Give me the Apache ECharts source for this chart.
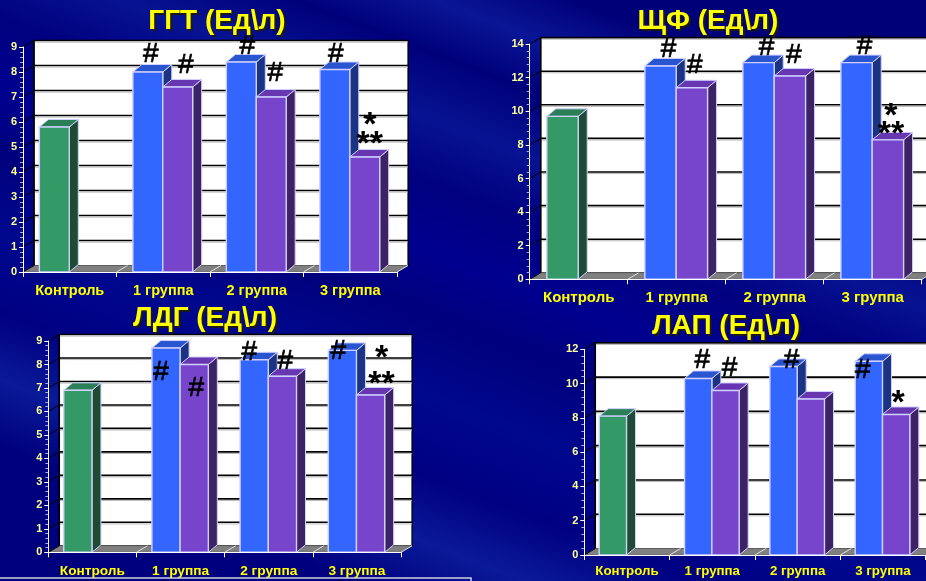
<!DOCTYPE html>
<html>
<head>
<meta charset="utf-8">
<script src="https://cdn.jsdelivr.net/npm/echarts@6/dist/echarts.min.js"></script>
<style>
html,body{margin:0;padding:0;background:#000080;}
#chart{width:926px;height:581px;}
</style>
</head>
<body>
<div id="chart"></div>
<script>
// ---------- DATA ----------
const categories = ['Контроль', '1 группа', '2 группа', '3 группа'];

const ggtTitle = 'ГГТ (Ед\\л)';
const ggtTicks = [0, 1, 2, 3, 4, 5, 6, 7, 8, 9];
const ggtSeriesA = [5.8, 8.0, 8.4, 8.1];
const ggtSeriesB = [null, 7.4, 7.0, 4.6];
const ggtMarksA = ['', '#', '#', '#'];
const ggtMarksB = ['', '#', '#', '*\n**'];

const shfTitle = 'ЩФ (Ед\\л)';
const shfTicks = [0, 2, 4, 6, 8, 10, 12, 14];
const shfSeriesA = [9.7, 12.7, 12.9, 12.9];
const shfSeriesB = [null, 11.4, 12.1, 8.3];
const shfMarksA = ['', '#', '#', '#'];
const shfMarksB = ['', '#', '#', '*\n**'];

const ldgTitle = 'ЛДГ (Ед\\л)';
const ldgTicks = [0, 1, 2, 3, 4, 5, 6, 7, 8, 9];
const ldgSeriesA = [6.9, 8.7, 8.2, 8.6];
const ldgSeriesB = [null, 8.0, 7.5, 6.7];
const ldgMarksA = ['', '#', '#', '#'];
const ldgMarksB = ['', '#', '#', '*\n**'];

const lapTitle = 'ЛАП (Ед\\л)';
const lapTicks = [0, 2, 4, 6, 8, 10, 12];
const lapSeriesA = [8.1, 10.3, 11.0, 11.3];
const lapSeriesB = [null, 9.6, 9.1, 8.2];
const lapMarksA = ['', '#', '#', '#'];
const lapMarksB = ['', '#', '', '*'];

// ---------- LAYOUT / STYLE ----------
const FONT = '"Liberation Sans", Arial, sans-serif';
const SLOT_START = 0.175, SLOT_W = 0.32;   // bar slots as fraction of category band
const BAR_DX = 9, BAR_DY = -7.5;          // bar depth
const WALL_DX = 11, WALL_DY = -6.5;       // wall depth
const PALETTE = [
  {front: '#339966', top: '#2b7f57', side: '#1d4b34'},
  {front: '#3366ff', top: '#2a55d0', side: '#1a3382'},
  {front: '#7744cc', top: '#6637b0', side: '#3d2366'}
];
const EDGE = '#d0d0ff';

const PANELS = [
  {title: ggtTitle, ticks: ggtTicks, A: ggtSeriesA, B: ggtSeriesB, mA: ggtMarksA, mB: ggtMarksB,
   titleX: 217, titleY: 21, grid: {left: 23, top: 47, width: 374, height: 225}, xFont: 14.5, xMargin: 11,
   nudgeA: [null, [3, -18], [6, -16], [1, -15]], nudgeB: [null, [8, -22], [4, -24], [5, -20, 19.5]]},
  {title: shfTitle, ticks: shfTicks, A: shfSeriesA, B: shfSeriesB, mA: shfMarksA, mB: shfMarksB,
   titleX: 708, titleY: 21, grid: {left: 529.7, top: 44.1, width: 392, height: 235.2}, xFont: 15, xMargin: 11,
   nudgeA: [null, [8, -17], [8, -15], [8, -16]], nudgeB: [null, [3, -22], [4, -21], [3, -13, 18]]},
  {title: ldgTitle, ticks: ldgTicks, A: ldgSeriesA, B: ldgSeriesB, mA: ldgMarksA, mB: ldgMarksB,
   titleX: 205, titleY: 318, grid: {left: 48.3, top: 341, width: 352.7, height: 211.3}, xFont: 13.7, xMargin: 12,
   nudgeA: [null, [-5, 24], [-5, -8], [-4, 1]], nudgeB: [null, [2, 24], [3, -15], [11, -18, 26]]},
  {title: lapTitle, ticks: lapTicks, A: lapSeriesA, B: lapSeriesB, mA: lapMarksA, mB: lapMarksB,
   titleX: 726, titleY: 326, grid: {left: 584.3, top: 349.3, width: 341.3, height: 205.7}, xFont: 13.3, xMargin: 10,
   nudgeA: [null, [4, -18], [8, -6], [-6, 9]], nudgeB: [null, [4, -22], null, [2, -19]]}
];

// ---------- RENDERERS ----------
function slotGeom(api, cat, val, slot) {
  const catW = api.size([1, 0])[0];
  const base = api.coord([cat, 0]);
  const top = api.coord([cat, val]);
  const x = base[0] - catW / 2 + catW * (SLOT_START + slot * SLOT_W);
  return {x: x, w: catW * SLOT_W, y0: base[1], y1: top[1]};
}

function makeWallRenderer(ticks) {
  return function (params, api) {
    const cs = params.coordSys;
    const x0 = cs.x, x1 = cs.x + cs.width, y0 = cs.y + cs.height, yT = cs.y;
    const ch = [];
    ch.push({type: 'rect', shape: {x: x0 + WALL_DX, y: yT + WALL_DY, width: cs.width, height: cs.height},
      style: {fill: '#ffffff', stroke: '#000', lineWidth: 1.2}});
    ch.push({type: 'polygon', shape: {points: [[x0, y0], [x1, y0], [x1 + WALL_DX, y0 + WALL_DY], [x0 + WALL_DX, y0 + WALL_DY]]},
      style: {fill: '#808080', stroke: '#666', lineWidth: 0.8}});
    ticks.forEach(function (t) {
      const y = api.coord([0, t])[1];
      if (t > 0) {
        ch.push({type: 'line', shape: {x1: x0 + WALL_DX, y1: y + WALL_DY, x2: x1 + WALL_DX, y2: y + WALL_DY},
          style: {stroke: '#000', lineWidth: 1.6}});
        ch.push({type: 'line', shape: {x1: x0 + WALL_DX, y1: y + WALL_DY + 1.6, x2: x1 + WALL_DX, y2: y + WALL_DY + 1.6},
          style: {stroke: '#b8b8b8', lineWidth: 1}});
      }
      ch.push({type: 'line', shape: {x1: x0, y1: y, x2: x0 + WALL_DX, y2: y + WALL_DY},
        style: {stroke: '#000', lineWidth: 1}});
    });
    ch.push({type: 'line', shape: {x1: x0 + WALL_DX, y1: yT + WALL_DY, x2: x0 + WALL_DX, y2: y0 + WALL_DY},
      style: {stroke: '#000', lineWidth: 1.5}});
    const catW = cs.width / categories.length;
    for (let i = 1; i <= categories.length; i++) {
      const xb = x0 + catW * i;
      ch.push({type: 'line', shape: {x1: xb, y1: y0, x2: xb + WALL_DX, y2: y0 + WALL_DY},
        style: {stroke: '#e0e0e0', lineWidth: 1}});
    }
    return {type: 'group', children: ch};
  };
}

function renderBar(params, api) {
  const g = slotGeom(api, api.value(0), api.value(1), api.value(2));
  const c = PALETTE[api.value(3)];
  const x = g.x, w = g.w, y0 = g.y0, y1 = g.y1;
  return {type: 'group', children: [
    {type: 'polygon', shape: {points: [[x + w, y1], [x + w + BAR_DX, y1 + BAR_DY], [x + w + BAR_DX, y0 + BAR_DY], [x + w, y0]]},
      style: {fill: c.side, stroke: EDGE, lineWidth: 1}},
    {type: 'polygon', shape: {points: [[x, y1], [x + BAR_DX, y1 + BAR_DY], [x + w + BAR_DX, y1 + BAR_DY], [x + w, y1]]},
      style: {fill: c.top, stroke: EDGE, lineWidth: 1}},
    {type: 'rect', shape: {x: x, y: y1, width: w, height: y0 - y1},
      style: {fill: c.front, stroke: EDGE, lineWidth: 1.4}}
  ]};
}

function makeMarkRenderer(items) {
  return function (params, api) {
    const it = items[params.dataIndex];
    const g = slotGeom(api, api.value(0), api.value(1), api.value(2));
    const nd = it.nudge || [5, -17, 20];
    const gap = nd[2] || 20;
    const lines = it.text.split('\n');
    const cx = g.x + g.w / 2 + nd[0];
    const ch = lines.map(function (ln, k) {
      const isStar = ln.indexOf('*') >= 0;
      const yc = g.y1 + nd[1] - (lines.length - 1 - k) * gap + (isStar ? 8 : 0);
      return {type: 'text', x: cx, y: yc, style: {
        text: ln, fill: '#000', stroke: isStar ? null : '#000', lineWidth: isStar ? 0 : 0.7,
        font: isStar ? ('bold 34px ' + FONT) : ('28px ' + FONT),
        align: 'center', verticalAlign: 'middle'}};
    });
    return {type: 'group', children: ch};
  };
}

// ---------- BUILD OPTION ----------
const grids = [], xAxes = [], yAxes = [], series = [], graphics = [];

graphics.push({type: 'rect', z: -10, shape: {x: 0, y: 0, width: 926, height: 581},
  style: {fill: {type: 'linear', x: 0.62, y: 0, x2: 0.38, y2: 1, colorStops: [
    {offset: 0, color: '#000078'}, {offset: 0.08, color: '#0a1696'}, {offset: 0.16, color: '#00007a'},
    {offset: 0.26, color: '#071392'}, {offset: 0.36, color: '#000080'}, {offset: 0.46, color: '#000090'},
    {offset: 0.56, color: '#00007c'}, {offset: 0.68, color: '#00088e'}, {offset: 0.8, color: '#000082'},
    {offset: 0.9, color: '#0a1a98'}, {offset: 1, color: '#00007e'}]}}});

PANELS.forEach(function (p, i) {
  grids.push(Object.assign({outerBoundsMode: 'none', containLabel: false}, p.grid));
  xAxes.push({gridIndex: i, type: 'category', data: categories, boundaryGap: true, z: 5,
    axisLine: {show: true, lineStyle: {color: '#ffffff', width: 1.2}},
    axisTick: {show: true, length: 5, interval: 0, lineStyle: {color: '#ffffff'}},
    axisLabel: {color: '#ffff00', fontWeight: 'bold', fontSize: p.xFont, fontFamily: FONT, margin: p.xMargin, interval: 0},
    splitLine: {show: false}});
  const step = p.ticks[1] - p.ticks[0];
  yAxes.push({gridIndex: i, type: 'value', min: p.ticks[0], max: p.ticks[p.ticks.length - 1], interval: step, z: 5,
    axisLine: {show: true, lineStyle: {color: '#ffffff', width: 1}},
    axisTick: {show: true, length: 4, lineStyle: {color: '#ffffff'}},
    minorTick: {show: true, splitNumber: 5, length: 3, lineStyle: {color: '#a8a8e8'}},
    axisLabel: {color: '#ffff99', fontWeight: 'bold', fontSize: 11, fontFamily: FONT, margin: 6},
    splitLine: {show: false}, minorSplitLine: {show: false}});

  series.push({type: 'custom', xAxisIndex: i, yAxisIndex: i, z: 1, silent: true,
    renderItem: makeWallRenderer(p.ticks), data: [[0, 0]]});

  const bars = [], marks = [];
  for (let c = 0; c < categories.length; c++) {
    if (p.A[c] != null) {
      bars.push([c, p.A[c], 0, c === 0 ? 0 : 1]);
      if (p.mA[c]) marks.push({value: [c, p.A[c], 0], text: p.mA[c], nudge: p.nudgeA[c]});
    }
    if (p.B[c] != null) {
      bars.push([c, p.B[c], 1, 2]);
      if (p.mB[c]) marks.push({value: [c, p.B[c], 1], text: p.mB[c], nudge: p.nudgeB[c]});
    }
  }
  series.push({type: 'custom', xAxisIndex: i, yAxisIndex: i, z: 3, silent: true,
    renderItem: renderBar, data: bars});
  series.push({type: 'custom', xAxisIndex: i, yAxisIndex: i, z: 8, silent: true,
    renderItem: makeMarkRenderer(marks), data: marks.map(function (m) { return m.value; })});

  graphics.push({type: 'text', z: 50, x: p.titleX + 2, y: p.titleY + 2,
    style: {text: p.title, fill: '#1a1a1a', font: 'bold 28px ' + FONT, align: 'center', verticalAlign: 'middle'}});
  graphics.push({type: 'text', z: 51, x: p.titleX, y: p.titleY,
    style: {text: p.title, fill: '#ffff00', font: 'bold 28px ' + FONT, align: 'center', verticalAlign: 'middle'}});
});

graphics.push({type: 'rect', z: 20, shape: {x: -2, y: 578, width: 473, height: 10},
  style: {fill: 'none', stroke: '#d0d0e0', lineWidth: 1.5}});

const chart = echarts.init(document.getElementById('chart'), null, {renderer: 'canvas'});
chart.setOption({
  animation: false,
  grid: grids, xAxis: xAxes, yAxis: yAxes, series: series,
  graphic: {elements: graphics}
});
</script>
</body>
</html>
